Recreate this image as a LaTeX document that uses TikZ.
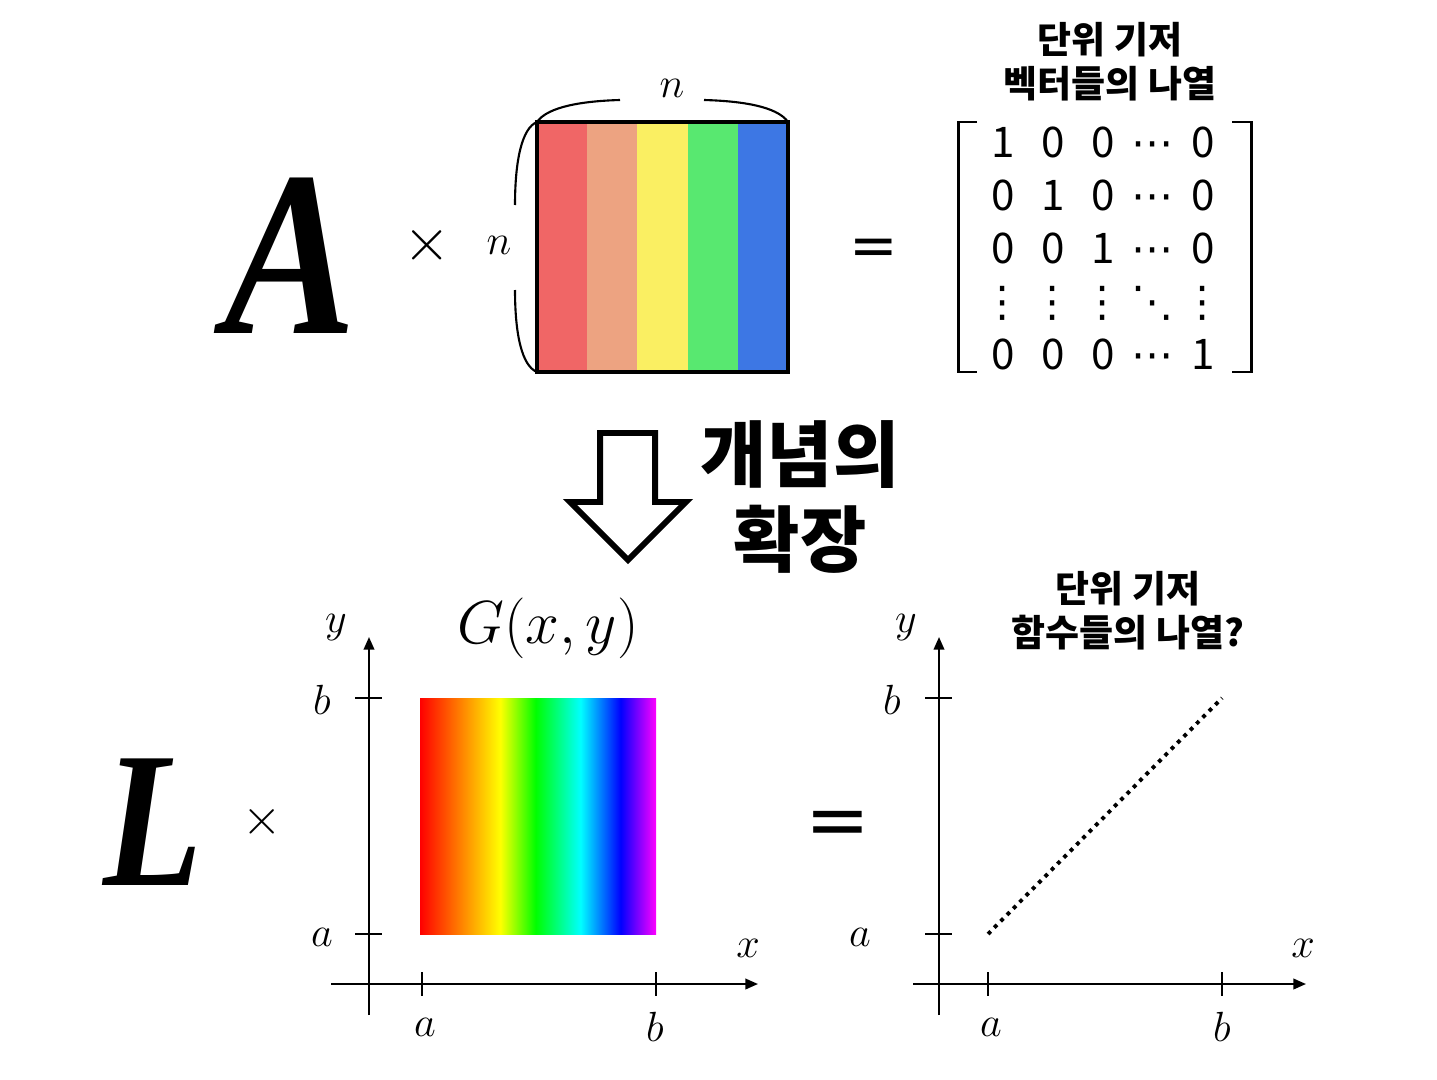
\documentclass[tikz,border=0pt]{standalone}
\usepackage{fontspec}
\setmainfont{Liberation Serif}
\newfontfamily\kor{Noto Sans CJK KR}
\newfontfamily\dejavu{DejaVu Sans}
\usetikzlibrary{arrows.meta}

\definecolor{stripRed}{HTML}{F06666}
\definecolor{stripSalmon}{HTML}{EDA381}
\definecolor{stripYellow}{HTML}{FAEF62}
\definecolor{stripGreen}{HTML}{58E870}
\definecolor{stripBlue}{HTML}{3D77E4}

\pgfdeclarehorizontalshading{rainbow}{100bp}{color(0bp)=(red); color(25bp)=(red); color(42bp)=(yellow); color(49.5bp)=(green); color(59bp)=(cyan); color(67.5bp)=(blue); color(75bp)=(magenta); color(100bp)=(magenta)}

\newcommand\rowdots{{\dejavu ⋯}}
\newcommand\coldots{{\dejavu ⋮}}
\newcommand\diagdots{{\dejavu ⋱}}
\newcommand\narrow[1]{\scalebox{0.84}[1]{#1}}

\tikzset{
  bigletter/.style={font=\bfseries\itshape\fontsize{#1}{#1}\selectfont, anchor=base},
  timesop/.style={font=\fontsize{#1}{#1}\selectfont},
  eqop/.style={font=\dejavu\fontsize{#1}{#1}\selectfont},
  title/.style={font=\kor\bfseries\fontsize{10.5}{12.5}\selectfont, align=center},
  entry/.style={font=\kor\fontsize{12}{12}\selectfont, anchor=base},
  axlabel/.style={font=\fontsize{13}{13}\selectfont},
  axline/.style={line width=0.6pt},
  axarrow/.style={axline, -{Triangle[length=3.6pt,width=3pt]}},
  brace/.style={line width=0.6pt}
}

\begin{document}
\begin{tikzpicture}[x=0.01cm,y=-0.01cm]
\useasboundingbox (0,0) rectangle (1437,1079);

% top row: A x [colour matrix] = identity
\node[bigletter=67] (letA) at (290,333) {\narrow{A}};
\node[timesop=18] (timesTop) at (427,245) {$\times$};

\foreach \col [count=\i] in {stripRed,stripSalmon,stripYellow,stripGreen,stripBlue}
  \fill[\col] ({537+50.2*(\i-1)},122) rectangle ++(50.2,250);
\draw[line width=1pt] (537,122) rectangle (788,372);
\coordinate (gNW) at (537,122);
\coordinate (gNE) at (788,122);
\coordinate (gSW) at (537,372);

\node[axlabel] (nTop) at (672,88) {$n$};
\node[axlabel] (nLeft) at (499,245) {$n$};
\draw[brace] (gNW) .. controls (548,106) and (585,101) .. (620,100);
\draw[brace] (704,100) .. controls (740,101) and (777,106) .. (gNE);
\draw[brace] (gNW) .. controls (522,128) and (515,160) .. (515,205);
\draw[brace] (515,290) .. controls (515,335) and (522,366) .. (gSW);

\node[eqop=16.5] (eqTop) at (874,252) {=};

\node[title] (titleTop) at (1110,62) {단위 기저\\벡터들의 나열};
\draw[line width=0.85pt] (977,122) -- (958,122) -- (958,372) -- (977,372);
\draw[line width=0.85pt] (1232,122) -- (1251,122) -- (1251,372) -- (1232,372);
\foreach \row [count=\r] in {{1,0,0,\rowdots,0},{0,1,0,\rowdots,0},{0,0,1,\rowdots,0},{\coldots,\coldots,\coldots,\diagdots,\coldots},{0,0,0,\rowdots,1}}
  \foreach \e [count=\c] in \row
    \node[entry] (m\r\c) at (953+50*\c, 104+53*\r) {\e};

% middle: hollow arrow
\draw[line width=1.7pt, line join=miter] (600,433) -- (655,433) -- (655,502) -- (686,502)
  -- (628,560) -- (570,502) -- (600,502) -- cycle;
\node[font=\kor\bfseries\fontsize{20.5}{24}\selectfont, align=center] (ext) at (800,497) {개념의\\확장};

% bottom row: L x G(x,y) = ?
\node[bigletter=55] (letL) at (153,885) {\narrow{L}};
\node[timesop=15] (timesBot) at (262,822) {$\times$};

\coordinate (oL) at (369,984);
\draw[axarrow] (369,1015) -- (369,637);
\draw[axarrow] (331,984) -- (758,984);
\draw[axline] (355,698) -- (382,698);
\draw[axline] (355,934) -- (382,934);
\draw[axline] (422,972) -- (422,996);
\draw[axline] (656,972) -- (656,996);
\shade[shading=rainbow] (420,698) rectangle (656,934);
\node[font=\fontsize{17}{17}\selectfont] (gxy) at (548,628) {$G(x,y)$};
\node[axlabel] (yL) at (336,628) {$y$};
\node[axlabel] (bL) at (322,700) {$b$};
\node[axlabel] (aL) at (322,937) {$a$};
\node[axlabel] (xL) at (748,948) {$x$};
\node[axlabel] (axL) at (425,1027) {$a$};
\node[axlabel] (bxL) at (655,1027) {$b$};

\node[eqop=22] (eqBot) at (838,829) {=};

\draw[axarrow] (939,1015) -- (939,637);
\draw[axarrow] (913,984) -- (1306,984);
\draw[axline] (925,698) -- (952,698);
\draw[axline] (925,934) -- (952,934);
\draw[axline] (988,972) -- (988,996);
\draw[axline] (1222,972) -- (1222,996);
\coordinate (lineStart) at (988,934);
\coordinate (lineEnd) at (1222,698);
\draw[line width=1.1pt, dash pattern=on 1.1pt off 1.45pt] (lineStart) -- (lineEnd);
\node[title] (titleBot) at (1128,611) {단위 기저\\함수들의 나열?};
\node[axlabel] (yR) at (906,628) {$y$};
\node[axlabel] (bR) at (892,700) {$b$};
\node[axlabel] (aR) at (860,937) {$a$};
\node[axlabel] (xR) at (1303,948) {$x$};
\node[axlabel] (axR) at (991,1027) {$a$};
\node[axlabel] (bxR) at (1222,1027) {$b$};
\end{tikzpicture}
\end{document}
